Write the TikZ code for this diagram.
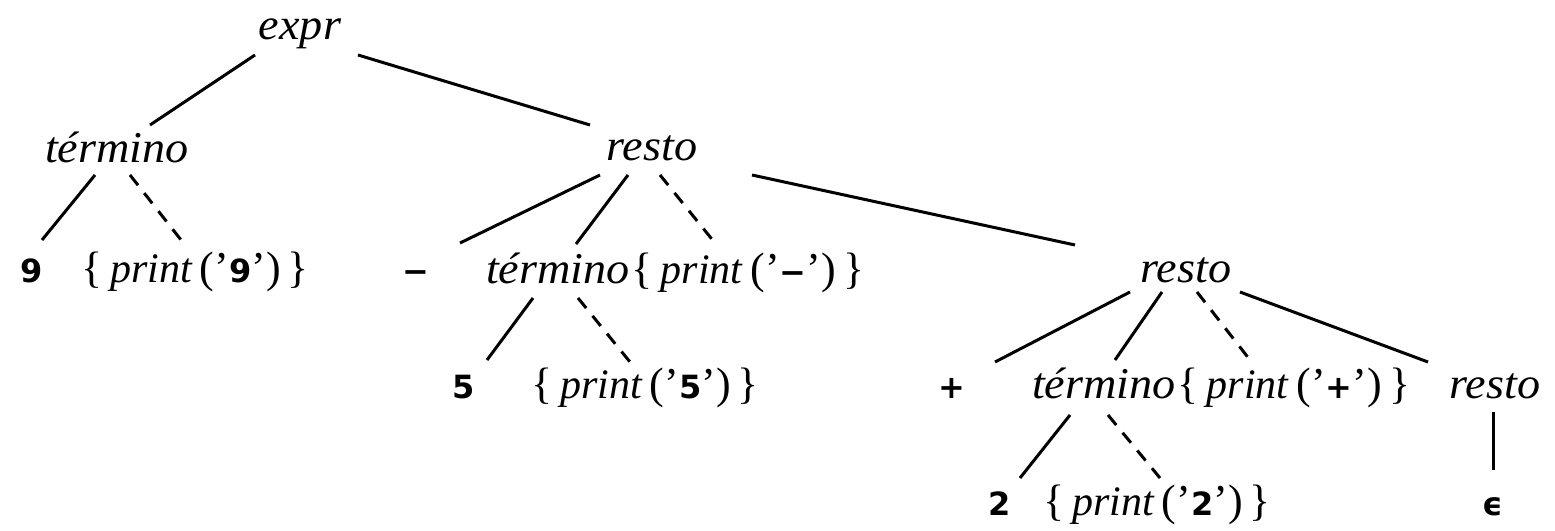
\documentclass[tikz,border=0pt]{standalone}
\usepackage{fontspec}
\setmainfont{Liberation Serif}
\newfontfamily\termfont[FakeStretch=1.05]{Liberation Serif}
\newfontfamily\digfont{DejaVu Sans}
\newcommand{\dg}[1]{{\digfont\bfseries\fontsize{32}{34}\selectfont #1}}
\newcommand{\act}[1]{\{\hspace{8pt}{\fontsize{42}{44}\selectfont\itshape print}\hspace{8pt}(’\dg{#1}’)\hspace{7pt}\}}
\tikzset{
  lab/.style={inner sep=0pt, anchor=base, font=\fontsize{44}{48}\selectfont},
  term/.style={inner sep=0pt, anchor=base, font=\termfont\fontsize{44}{48}\selectfont\itshape},
  num/.style={inner sep=0pt, anchor=base, font=\digfont\bfseries\fontsize{32}{34}\selectfont},
  edge/.style={line width=3pt},
  dedge/.style={line width=3pt, dash pattern=on 13pt off 10pt}
}
\begin{document}
\begin{tikzpicture}[x=1pt,y=-1pt]
\useasboundingbox (0,0) rectangle (1555,530);
% nodes
\node[term] (expr) at (300,39) {expr};
\node[term] (t1) at (117,162) {término};
\node[term] (r1) at (652,160) {resto};
\node[num] (n9) at (32,282) {9};
\node[lab] (p9) at (195,282) {\act{9}};
\node[num] (minus) at (416,282) {−};
\node[term] (t2) at (558,283) {término};
\node[lab] (pm) at (748,283) {\act{−}};
\node[term] (r2) at (1186,282) {resto};
\node[num] (n5) at (464,398) {5};
\node[lab] (p5) at (645,398) {\act{5}};
\node[num] (plus) at (952,398) {+};
\node[term] (t3) at (1104,398) {término};
\node[lab] (pp) at (1294,398) {\act{+}};
\node[term] (r3) at (1495,398) {resto};
\node[num] (n2) at (1000,515) {2};
\node[lab] (p2) at (1157,515) {\act{2}};
\node[num] (eps) at (1493,515) {ϵ};
% edges
\draw[edge] ([shift={(-45,16)}]expr.base) -- ([shift={(33,-37)}]t1.base);
\draw[edge] ([shift={(58,16)}]expr.base) -- ([shift={(-62,-35)}]r1.base);
\draw[edge] ([shift={(-22,13)}]t1.base) -- ([shift={(10,-42)}]n9.base);
\draw[dedge] ([shift={(13,13)}]t1.base) -- ([shift={(-10,-37)}]p9.base);
\draw[edge] ([shift={(-52,15)}]r1.base) -- ([shift={(44,-39)}]minus.base);
\draw[edge] ([shift={(-24,15)}]r1.base) -- ([shift={(18,-39)}]t2.base);
\draw[dedge] ([shift={(8,15)}]r1.base) -- ([shift={(-33,-40)}]pm.base);
\draw[edge] ([shift={(100,15)}]r1.base) -- ([shift={(-111,-37)}]r2.base);
\draw[edge] ([shift={(-25,15)}]t2.base) -- ([shift={(23,-38)}]n5.base);
\draw[dedge] ([shift={(20,15)}]t2.base) -- ([shift={(-15,-36)}]p5.base);
\draw[edge] ([shift={(-56,10)}]r2.base) -- ([shift={(43,-36)}]plus.base);
\draw[edge] ([shift={(-24,10)}]r2.base) -- ([shift={(11,-38)}]t3.base);
\draw[dedge] ([shift={(11,10)}]r2.base) -- ([shift={(-44,-38)}]pp.base);
\draw[edge] ([shift={(54,10)}]r2.base) -- ([shift={(-67,-36)}]r3.base);
\draw[edge] ([shift={(-34,17)}]t3.base) -- ([shift={(20,-37)}]n2.base);
\draw[dedge] ([shift={(4,17)}]t3.base) -- ([shift={(3,-37)}]p2.base);
\draw[edge] ([shift={(-2,14)}]r3.base) -- ([shift={(0,-45)}]eps.base);
\end{tikzpicture}
\end{document}
